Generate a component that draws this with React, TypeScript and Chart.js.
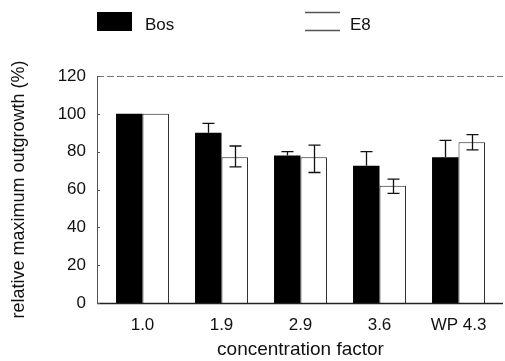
import React, { useEffect, useRef } from "react";
import { Chart, registerables } from "chart.js";

Chart.register(...registerables);

const categories = ["1.0", "1.9", "2.9", "3.6", "WP 4.3"];
const bosValues = [100, 90, 78, 72.5, 77];
const bosErrHigh = [100, 95, 80, 80, 86];
const e8Values = [100, 77, 77, 62, 85];
const e8ErrLow = [100, 72, 69, 58, 81];
const e8ErrHigh = [100, 83, 83.5, 65.5, 89];
const yTicks = [0, 20, 40, 60, 80, 100, 120];

const FONT = "'Liberation Sans', Arial, sans-serif";
const FRAME_LEFT = 97;
const FRAME_RIGHT = 503;

const decorPlugin = {
  id: "decor",
  afterDatasetsDraw(chart: any) {
    const { ctx, chartArea, scales } = chart;
    const y = scales.y;
    ctx.save();
    ctx.strokeStyle = "#111";
    ctx.lineWidth = 1.3;
    // Bos error bars (upper whisker only, lower hidden in black bar)
    const bosMeta = chart.getDatasetMeta(0);
    bosMeta.data.forEach((bar: any, i: number) => {
      if (bosErrHigh[i] === bosValues[i]) return;
      const x = Math.round(bar.x) + 0.5;
      const yTop = y.getPixelForValue(bosValues[i]);
      const yHi = y.getPixelForValue(bosErrHigh[i]);
      ctx.beginPath();
      ctx.moveTo(x, yTop);
      ctx.lineTo(x, yHi);
      ctx.moveTo(x - 6, yHi);
      ctx.lineTo(x + 6, yHi);
      ctx.stroke();
    });
    // E8 error bars
    const e8Meta = chart.getDatasetMeta(1);
    e8Meta.data.forEach((bar: any, i: number) => {
      if (e8ErrLow[i] === e8ErrHigh[i]) return;
      const x = Math.round(bar.x) + 0.5;
      const yLo = y.getPixelForValue(e8ErrLow[i]);
      const yHi = y.getPixelForValue(e8ErrHigh[i]);
      ctx.beginPath();
      ctx.moveTo(x, yLo);
      ctx.lineTo(x, yHi);
      ctx.moveTo(x - 6, yHi);
      ctx.lineTo(x + 6, yHi);
      ctx.moveTo(x - 6, yLo);
      ctx.lineTo(x + 6, yLo);
      ctx.stroke();
    });
    // frame
    const top = Math.round(chartArea.top) + 0.5;
    const bottom = Math.round(chartArea.bottom) + 0.5;
    ctx.strokeStyle = "#777";
    ctx.lineWidth = 1;
    ctx.setLineDash([7, 3]);
    ctx.beginPath();
    ctx.moveTo(FRAME_LEFT, top);
    ctx.lineTo(FRAME_RIGHT, top);
    ctx.stroke();
    ctx.setLineDash([]);
    ctx.strokeStyle = "#555";
    ctx.beginPath();
    ctx.moveTo(FRAME_LEFT + 0.5, top);
    ctx.lineTo(FRAME_LEFT + 0.5, bottom);
    ctx.stroke();
    ctx.strokeStyle = "#222";
    ctx.lineWidth = 1.3;
    ctx.beginPath();
    ctx.moveTo(FRAME_LEFT, bottom);
    ctx.lineTo(FRAME_RIGHT, bottom);
    ctx.stroke();
    // inward tick marks
    ctx.strokeStyle = "#555";
    ctx.lineWidth = 1;
    yTicks.forEach((v) => {
      const py = Math.round(y.getPixelForValue(v)) + 0.5;
      ctx.beginPath();
      ctx.moveTo(FRAME_LEFT, py);
      ctx.lineTo(FRAME_LEFT + 3, py);
      ctx.stroke();
    });
    // legend
    ctx.fillStyle = "#000";
    ctx.fillRect(97, 12, 35, 19);
    ctx.font = `17px ${FONT}`;
    ctx.textBaseline = "middle";
    ctx.textAlign = "left";
    ctx.fillStyle = "#111";
    ctx.fillText("Bos", 145, 25);
    ctx.strokeStyle = "#555";
    ctx.lineWidth = 1.3;
    ctx.beginPath();
    ctx.moveTo(305, 12.5);
    ctx.lineTo(340, 12.5);
    ctx.moveTo(305, 30.5);
    ctx.lineTo(340, 30.5);
    ctx.stroke();
    ctx.fillText("E8", 350, 25);
    ctx.restore();
  },
};

export default function App() {
  const ref = useRef<HTMLCanvasElement | null>(null);
  useEffect(() => {
    if (!ref.current) return;
    const chart = new Chart(ref.current, {
      type: "bar",
      data: {
        labels: categories,
        datasets: [
          {
            label: "Bos",
            data: bosValues,
            backgroundColor: "#000",
            borderColor: "#000",
            borderWidth: 0,
          },
          {
            label: "E8",
            data: e8Values,
            backgroundColor: "#fff",
            borderColor: "#222",
            borderWidth: 1,
          },
        ],
      },
      options: {
        animation: false,
        responsive: false,
        maintainAspectRatio: false,
        layout: { padding: { top: 76, right: 7, left: 0, bottom: 0 } },
        datasets: { bar: { categoryPercentage: 0.67, barPercentage: 1 } },
        plugins: { legend: { display: false }, tooltip: { enabled: false } },
        scales: {
          x: {
            grid: { display: false, drawTicks: false },
            border: { display: false },
            ticks: {
              color: "#111",
              font: { family: FONT, size: 17 },
              padding: 12,
            },
            title: {
              display: true,
              text: "concentration factor",
              color: "#111",
              font: { family: FONT, size: 19 },
              padding: { top: 2, bottom: 0 },
            },
            afterFit: (s: any) => {
              s.height = 58;
            },
          },
          y: {
            min: 0,
            max: 120,
            grid: { display: false, drawTicks: false },
            border: { display: false },
            ticks: {
              stepSize: 20,
              color: "#111",
              font: { family: FONT, size: 17 },
              padding: 17,
            },
            title: {
              display: true,
              text: "relative maximum outgrowth (%)",
              color: "#111",
              font: { family: FONT, size: 18 },
              padding: { top: 8, bottom: 0 },
            },
            afterFit: (s: any) => {
              s.width = 103;
            },
          },
        },
      },
      plugins: [decorPlugin],
    });
    return () => chart.destroy();
  }, []);
  return (
    <div style={{ position: "fixed", left: 0, top: 0, width: 505, height: 361, background: "#fff" }}>
      <canvas ref={ref} width={505} height={361} style={{ width: 505, height: 361 }} />
    </div>
  );
}
